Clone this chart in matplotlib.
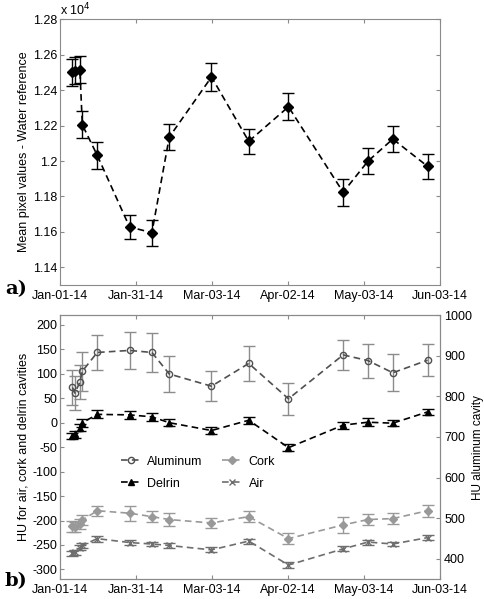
import matplotlib
matplotlib.use("Agg")
import matplotlib.pyplot as plt
from matplotlib.lines import Line2D
import numpy as np

plt.rcParams["font.family"] = ["Liberation Sans", "DejaVu Sans"]
plt.rcParams["font.size"] = 9
plt.rcParams["axes.unicode_minus"] = False

# days since Jan-01-14
days = [5, 6, 8, 9, 15, 28, 37, 44, 61, 76, 92, 114, 124, 134, 148]

# a) mean pixel values (x 10^4)
water = [1.2500, 1.2510, 1.2515, 1.2204, 1.2032, 1.1628, 1.1596, 1.2135, 1.2474,
         1.2111, 1.2306, 1.1824, 1.1999, 1.2124, 1.1970]
water_err = [0.0076, 0.0076, 0.0076, 0.0076, 0.0076, 0.0070, 0.0073, 0.0074, 0.0078,
             0.0071, 0.0076, 0.0077, 0.0074, 0.0073, 0.0070]

# b) HU values
aluminum = [822, 808, 835, 862, 908, 913, 908, 855, 825, 881, 794, 902, 888, 858, 889]
aluminum_err = [43, 41, 42, 48, 44, 46, 47, 44, 37, 43, 40, 36, 42, 45, 40]
delrin = [-28, -24, -10, 0, 17, 16, 12, 0, -16, 5, -51, -5, 1, -1, 22]
delrin_err = [6, 7, 8, 8, 8, 8, 8, 7, 7, 7, 7, 7, 8, 6, 7]
cork = [-212, -214, -207, -199, -180, -185, -192, -198, -205, -192, -237, -209, -198, -196, -180]
cork_err = [11, 10, 10, 10, 10, 15, 12, 13, 11, 11, 11, 16, 12, 11, 12]
air = [-267, -265, -256, -251, -237, -245, -248, -251, -260, -242, -291, -258, -244, -248, -235]
air_err = [5, 5, 5, 5, 6, 5, 5, 5, 5, 5, 6, 5, 5, 5, 5]

tick_days = np.linspace(0, 153, 6)
tick_labels = ["Jan-01-14", "Jan-31-14", "Mar-03-14", "Apr-02-14", "May-03-14", "Jun-03-14"]

frame = "#8a8a8a"
dash = (4, 2.5)

fig = plt.figure(figsize=(4.85, 5.99), dpi=100)
ax1 = fig.add_axes([0.1237, 0.524, 0.7835, 0.444])
ax2 = fig.add_axes([0.1237, 0.033, 0.7835, 0.441])


def style(ax, top=True):
    for s in ax.spines.values():
        s.set_color(frame)
        s.set_linewidth(0.8)
    ax.tick_params(direction="in", length=3, color=frame, labelsize=9, top=top)
    ax.set_xlim(0, 153)
    ax.set_xticks(tick_days)
    ax.set_xticklabels(tick_labels)


# --- a) ---
ax1.errorbar(days, water, yerr=water_err, fmt="D--", color="black", ms=5,
             lw=1.2, capsize=4, elinewidth=1, capthick=1, dashes=dash)
ax1.set_ylim(1.13, 1.28)
yt = np.arange(1.14, 1.281, 0.02)
ax1.set_yticks(yt)
ax1.set_yticklabels([("%.2f" % v).rstrip("0") for v in yt])
style(ax1)
ax1.tick_params(right=True)
ax1.tick_params(axis="y", pad=2)
ax1.set_ylabel("Mean pixel values - Water reference", fontsize=9, labelpad=2)
ax1.text(0.0, 1.005, "x 10$^4$", transform=ax1.transAxes, fontsize=9, va="bottom")
fig.text(0.01, 0.532, "a)", fontsize=14, fontweight="bold", family="DejaVu Serif", va="top")

# --- b) ---
ax3 = ax2.twinx()
ax3.set_position(ax2.get_position())
series = [
    (ax3, aluminum, aluminum_err, "o", "#505050", "#8c8c8c", "none", 4.5, "Aluminum"),
    (ax2, delrin, delrin_err, "^", "black", "black", "black", 5, "Delrin"),
    (ax2, cork, cork_err, "D", "#999999", "#999999", "#999999", 4, "Cork"),
    (ax2, air, air_err, "x", "#6e6e6e", "#6e6e6e", "#6e6e6e", 4, "Air"),
]
handles = {}
for ax, vals, err, mk, col, ecol, mfc, ms, name in series:
    ax.errorbar(days, vals, yerr=err, fmt=mk + "--", color=col, ecolor=ecol,
                mfc=mfc, ms=ms, lw=1.2, capsize=4, elinewidth=1, capthick=1,
                dashes=dash)
    handles[name] = Line2D([], [], ls="--", dashes=dash, marker=mk, color=col,
                           mfc=mfc, ms=ms, lw=1.2)

ax2.set_ylim(-320, 220)
ax2.set_yticks(np.arange(-300, 201, 50))
ax3.set_ylim(350, 1000)
ax3.set_yticks(np.arange(400, 1001, 100))
style(ax2)
style(ax3)
ax3.tick_params(right=True, left=False, pad=3)
ax2.tick_params(right=False)
ax2.tick_params(axis="y", pad=2)
ax2.set_ylabel("HU for air, cork and delrin cavities", fontsize=9, labelpad=2)
ax3.set_ylabel("HU aluminum cavity", fontsize=8.5, labelpad=0)

names = ["Aluminum", "Delrin", "Cork", "Air"]
ax2.legend([handles[n] for n in names], names,
           ncol=2, frameon=False, loc="upper left",
           bbox_to_anchor=(0.13, 0.51), fontsize=9, handlelength=1.6,
           handletextpad=0.5, columnspacing=1.6, labelspacing=0.8)
fig.text(0.01, 0.045, "b)", fontsize=14, fontweight="bold", family="DejaVu Serif", va="top")

fig.savefig("out.png", dpi=100)
